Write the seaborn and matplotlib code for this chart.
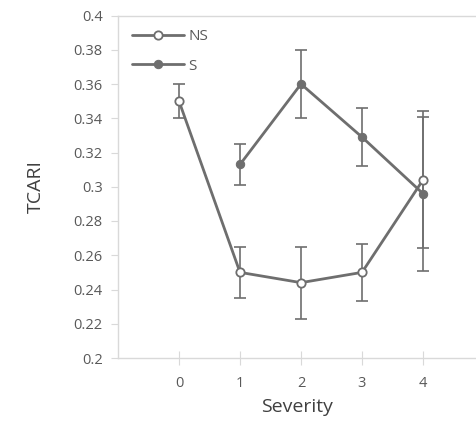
import pandas as pd
import matplotlib.pyplot as plt
import seaborn as sns

# valeurs
severity_ns = [0, 1, 2, 3, 4]
tcari_ns = [0.350, 0.250, 0.244, 0.250, 0.304]
err_ns = [0.010, 0.015, 0.021, 0.0165, 0.040]

severity_s = [1, 2, 3, 4]
tcari_s = [0.313, 0.360, 0.329, 0.296]
err_s = [0.012, 0.020, 0.017, 0.045]

y_ticks = [0.2, 0.22, 0.24, 0.26, 0.28, 0.3, 0.32, 0.34, 0.36, 0.38, 0.4]
y_labels = ["0.2", "0.22", "0.24", "0.26", "0.28", "0.3", "0.32", "0.34", "0.36", "0.38", "0.4"]

df = pd.concat([
    pd.DataFrame({"Severity": severity_ns, "TCARI": tcari_ns, "err": err_ns, "group": "NS"}),
    pd.DataFrame({"Severity": severity_s, "TCARI": tcari_s, "err": err_s, "group": "S"}),
], ignore_index=True)

sns.set_style("white")
plt.rcParams["font.family"] = ["Open Sans", "DejaVu Sans"]

line_col = "#6e6e6e"
axis_col = "#d9d9d9"
text_col = "#595959"

fig = plt.figure(figsize=(4.76, 4.29), dpi=100)
ax = fig.add_axes([118 / 476, 71 / 429, 358 / 476, 342.5 / 429])

# barres d'erreur
for g, sub in df.groupby("group"):
    ax.errorbar(sub["Severity"], sub["TCARI"], yerr=sub["err"], fmt="none",
                ecolor=line_col, elinewidth=1.2, capsize=4, capthick=1.2, zorder=2)

sns.lineplot(data=df[df["group"] == "NS"], x="Severity", y="TCARI", ax=ax,
             color=line_col, linewidth=2, marker="o", markersize=6,
             markerfacecolor="white", markeredgecolor=line_col, markeredgewidth=1.3,
             label="NS", zorder=3)
sns.lineplot(data=df[df["group"] == "S"], x="Severity", y="TCARI", ax=ax,
             color=line_col, linewidth=2, marker="o", markersize=6,
             markerfacecolor=line_col, markeredgecolor=line_col,
             label="S", zorder=3)

ax.set_xlim(-1, -1 + 358 / 61)
ax.set_ylim(0.2, 0.4)
ax.set_xticks(severity_ns)
ax.set_yticks(y_ticks)
ax.set_yticklabels(y_labels)

for side in ["left", "bottom", "top"]:
    ax.spines[side].set_color(axis_col)
    ax.spines[side].set_linewidth(1)
ax.spines["right"].set_visible(False)

ax.tick_params(axis="y", direction="out", length=5, color=axis_col,
               labelcolor=text_col, labelsize=10.5, left=True, pad=6)
ax.tick_params(axis="x", direction="inout", length=10, color=axis_col,
               labelcolor=text_col, labelsize=10.5, bottom=True, pad=8)

ax.set_xlabel("Severity", fontsize=14, color="#404040", labelpad=5)
ax.set_ylabel("TCARI", fontsize=14, color="#404040", labelpad=21)

leg = ax.legend(loc="upper left", frameon=False, fontsize=11, handlelength=3.4,
                borderaxespad=0.6, labelspacing=0.95, handletextpad=0.3,
                borderpad=0.3)
for t in leg.get_texts():
    t.set_color(text_col)

fig.savefig("out.png", dpi=100)
